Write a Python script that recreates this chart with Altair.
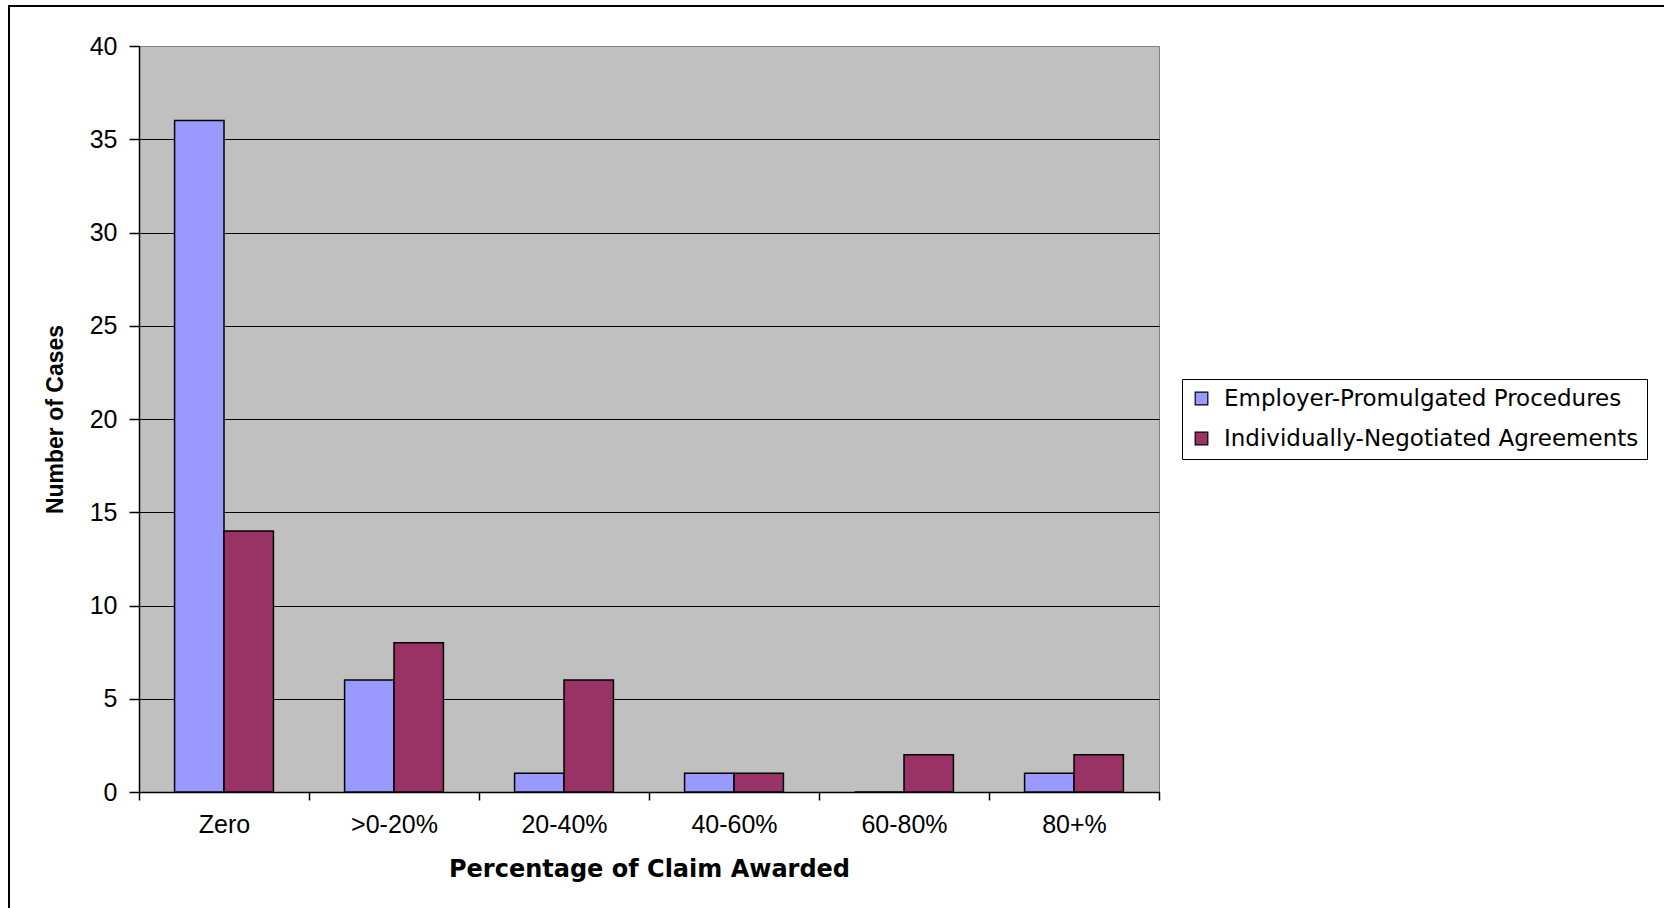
import altair as alt
import pandas as pd

categories = ["Zero", ">0-20%", "20-40%", "40-60%", "60-80%", "80+%"]
series_names = ["Employer-Promulgated Procedures", "Individually-Negotiated Agreements"]
employer_values = [36, 6, 1, 1, 0, 1]
individual_values = [14, 8, 6, 1, 2, 2]
series_colors = ["#9999FF", "#993366"]
y_ticks = [0, 5, 10, 15, 20, 25, 30, 35, 40]

rows = []
for cat, e, i in zip(categories, employer_values, individual_values):
    rows.append({"category": cat, "series": series_names[0], "cases": e})
    rows.append({"category": cat, "series": series_names[1], "cases": i})
df = pd.DataFrame(rows)

W, H = 1020, 746
PAD_L, PAD_T = 139, 46

bars = alt.Chart(df).mark_bar(stroke="black", strokeWidth=1.5).encode(
    x=alt.X(
        "category:N",
        sort=categories,
        scale=alt.Scale(paddingInner=0, paddingOuter=0),
        axis=alt.Axis(
            title="Percentage of Claim Awarded",
            labelAngle=0,
            tickBand="extent",
            tickSize=8,
            tickColor="black",
            tickWidth=1.5,
            domainColor="black",
            domainWidth=1.5,
            labelFont="Liberation Sans",
            labelFontSize=25,
            labelColor="black",
            labelPadding=12,
            grid=False,
            titleFont="DejaVu Sans",
            titleFontWeight="bold",
            titleFontSize=24,
            titleColor="black",
            titleX=W / 2,
            titleY=77,
            titleAlign="center",
            titleBaseline="middle",
        ),
    ),
    xOffset=alt.XOffset(
        "series:N", sort=series_names, scale=alt.Scale(paddingInner=0, paddingOuter=0.72)
    ),
    y=alt.Y(
        "cases:Q",
        scale=alt.Scale(domain=[0, 40], nice=False),
        axis=alt.Axis(
            values=y_ticks,
            title="Number of Cases",
            tickSize=10,
            tickColor="black",
            tickWidth=1.5,
            domainColor="black",
            domainWidth=1.5,
            labelFont="Liberation Sans",
            labelFontSize=25,
            labelColor="black",
            labelPadding=12,
            grid=True,
            gridColor=alt.condition("datum.value == 40", alt.value("#808080"), alt.value("black")),
            gridWidth=1,
            titleFont="Liberation Sans",
            titleFontWeight="bold",
            titleFontSize=23,
            titleColor="black",
            titleAngle=270,
            titleX=-84,
            titleY=H / 2,
            titleAlign="center",
            titleBaseline="middle",
        ),
    ),
    color=alt.Color(
        "series:N",
        sort=series_names,
        scale=alt.Scale(domain=series_names, range=series_colors),
        legend=alt.Legend(
            title=None,
            orient="none",
            legendX=1043,
            legendY=333,
            fillColor="white",
            strokeColor="black",
            padding=8,
            labelFont="DejaVu Sans",
            labelFontSize=23,
            labelColor="black",
            labelOffset=11,
            labelLimit=600,
            rowPadding=16,
            symbolType="square",
            symbolSize=160,
            symbolStrokeColor="black",
            symbolStrokeWidth=1.2,
            symbolOpacity=1,
        ),
    ),
)

border = alt.Chart(alt.Data(values=[{"k": 1}])).mark_rect(
    fill="white", fillOpacity=0, stroke="black", strokeWidth=2
).encode(
    x=alt.value(9 - PAD_L),
    x2=alt.value(1800),
    y=alt.value(6 - PAD_T),
    y2=alt.value(1100),
)

chart = alt.layer(border, bars).properties(
    width=W,
    height=H,
    padding={"left": PAD_L, "top": PAD_T, "right": 1664 - PAD_L - W, "bottom": 908 - PAD_T - H},
    autosize=alt.AutoSizeParams(type="none"),
    background="white",
).configure_view(fill="#C0C0C0", stroke="#808080", strokeWidth=1)

chart.save("out.html", embed_options={"renderer": "svg", "actions": False})
